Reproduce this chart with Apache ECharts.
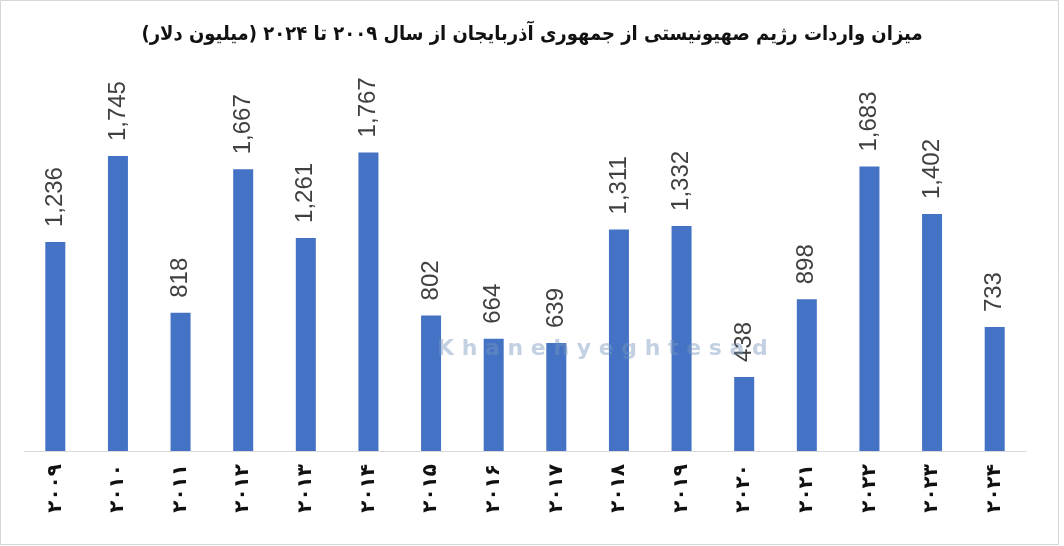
<!DOCTYPE html>
<html>
<head>
<meta charset="utf-8">
<script src="https://cdn.jsdelivr.net/npm/echarts@6/dist/echarts.min.js"></script>
<style>
html,body{margin:0;padding:0;background:#fff;}
#chart{width:1064px;height:546px;}
</style>
</head>
<body>
<div id="chart"></div>
<script>
const titleText = 'میزان واردات رژیم صهیونیستی از جمهوری آذربایجان از سال ۲۰۰۹ تا ۲۰۲۴ (میلیون دلار)';
const years = ['۲۰۰۹','۲۰۱۰','۲۰۱۱','۲۰۱۲','۲۰۱۳','۲۰۱۴','۲۰۱۵','۲۰۱۶','۲۰۱۷','۲۰۱۸','۲۰۱۹','۲۰۲۰','۲۰۲۱','۲۰۲۲','۲۰۲۳','۲۰۲۴'];
const imports = [1236, 1745, 818, 1667, 1261, 1767, 802, 664, 639, 1311, 1332, 438, 898, 1683, 1402, 733];
const watermark = 'K h a n e h y e g h t e s a d';

const chart = echarts.init(document.getElementById('chart'));
chart.setOption({
  animation: false,
  backgroundColor: '#ffffff',
  title: {
    text: titleText,
    left: 'center',
    top: 20,
    textStyle: {fontFamily: 'DejaVu Sans Condensed', fontWeight: 'bold', fontSize: 20, color: '#111'}
  },
  grid: {left: 24, right: 38, top: 113, bottom: 95},
  xAxis: {
    type: 'category',
    data: years,
    axisLine: {lineStyle: {color: '#d9d9d9', width: 1}},
    axisTick: {show: false},
    axisLabel: {
      rotate: 90,
      margin: 13,
      fontFamily: 'DejaVu Sans',
      fontWeight: 'bold',
      fontSize: 20,
      color: '#111',
      interval: 0
    }
  },
  yAxis: {
    type: 'value',
    min: 0,
    max: 2000,
    show: false,
    splitLine: {show: false}
  },
  series: [{
    type: 'bar',
    data: imports,
    barWidth: 20,
    itemStyle: {color: '#4472C4'},
    label: {
      show: true,
      position: 'top',
      rotate: 90,
      align: 'left',
      verticalAlign: 'middle',
      distance: 15,
      fontFamily: 'Liberation Sans',
      fontSize: 24,
      color: '#404040',
      formatter: p => p.value.toLocaleString('en-US')
    }
  }],
  graphic: [{
    type: 'text',
    left: 437,
    top: 338,
    z: 10,
    style: {
      text: watermark,
      fontFamily: 'DejaVu Sans',
      fontWeight: 'bold',
      fontSize: 22,
      fill: 'rgba(120,150,190,0.45)'
    }
  }, {
    type: 'rect',
    z: 0,
    shape: {x: 0.5, y: 0.5, width: 1058, height: 544},
    style: {fill: 'none', stroke: '#d6d6d6', lineWidth: 1}
  }]
});
</script>
</body>
</html>
